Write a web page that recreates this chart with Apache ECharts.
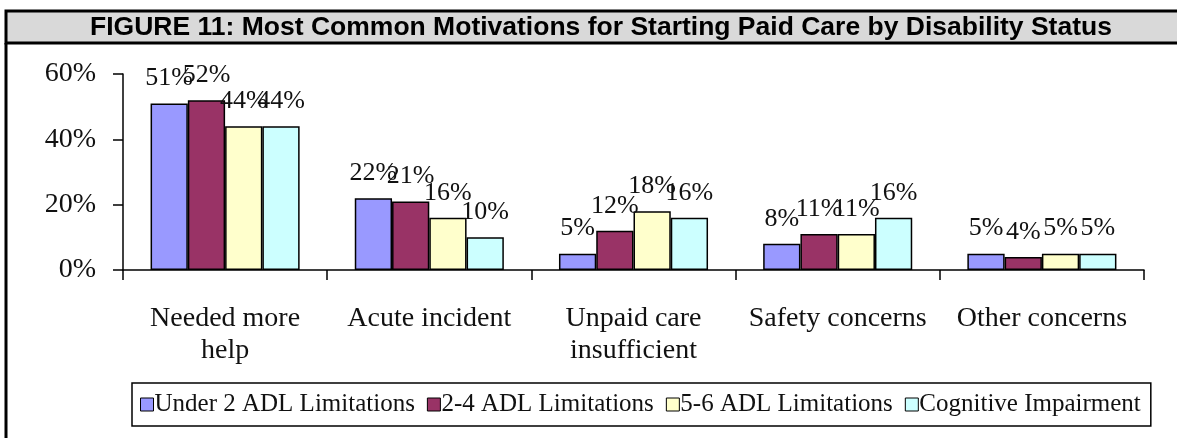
<!DOCTYPE html>
<html>
<head>
<meta charset="utf-8">
<script src="https://cdn.jsdelivr.net/npm/echarts@6/dist/echarts.min.js"></script>
<style>
html,body{margin:0;padding:0;background:#fff;}
#c{width:1177px;height:438px;}
</style>
</head>
<body>
<div id="c"></div>
<script>
const titleText = 'FIGURE 11: Most Common Motivations for Starting Paid Care by Disability Status';
const categories = ['Needed more\nhelp', 'Acute incident', 'Unpaid care\ninsufficient', 'Safety concerns', 'Other concerns'];
const seriesNames = ['Under 2 ADL Limitations', '2-4 ADL Limitations', '5-6 ADL Limitations', 'Cognitive Impairment'];
const under2 = [51, 22, 5, 8, 5];
const adl24 = [52, 21, 12, 11, 4];
const adl56 = [44, 16, 18, 11, 5];
const cognitive = [44, 10, 16, 16, 5];
const yTicks = [0, 20, 40, 60];
const colors = ['#9999ff', '#993366', '#ffffcc', '#ccffff'];

const serif = '"Liberation Serif", "Times New Roman", serif';
const chart = echarts.init(document.getElementById('c'));
const values = [under2, adl24, adl56, cognitive];

chart.setOption({
  animation: false,
  backgroundColor: '#fff',
  graphic: [
    { type: 'rect', shape: { x: 6, y: 11, width: 1180, height: 32 },
      style: { fill: '#d9d9d9', stroke: '#000', lineWidth: 3 }, z: 0 },
    { type: 'line', shape: { x1: 6, y1: 43, x2: 6, y2: 440 },
      style: { stroke: '#000', lineWidth: 3 } },
    { type: 'text', x: 601, y: 28,
      style: { text: titleText, font: 'bold 26.5px "Liberation Sans", Arial, sans-serif',
               fill: '#000', align: 'center', verticalAlign: 'middle' } }
  ],
  grid: { left: 123, right: 33, top: 74, bottom: 168 },
  legend: {
    data: seriesNames,
    left: 132, top: 383,
    icon: 'rect', itemWidth: 13, itemHeight: 13, itemGap: 12,
    borderColor: '#000', borderWidth: 1.5, padding: [9, 10, 9, 8],
    textStyle: { fontFamily: serif, fontSize: 25, color: '#111', padding: [0, 0, 0, -4] },
    itemStyle: { borderColor: '#000', borderWidth: 1 }
  },
  xAxis: {
    type: 'category', data: categories,
    axisLine: { lineStyle: { color: '#000', width: 1.5 } },
    axisTick: { show: true, length: 10, lineStyle: { color: '#000', width: 1.5 } },
    axisLabel: { fontFamily: serif, fontSize: 28, color: '#111', margin: 33, lineHeight: 32, interval: 0 }
  },
  yAxis: {
    type: 'value', min: 0, max: 60, interval: 20,
    splitLine: { show: false },
    axisLine: { show: true, lineStyle: { color: '#000', width: 1.5 } },
    axisTick: { show: true, length: 10, lineStyle: { color: '#000', width: 1.5 } },
    axisLabel: { fontFamily: serif, fontSize: 28, color: '#111', margin: 27, formatter: '{value}%' }
  },
  series: values.map((v, i) => ({
    name: seriesNames[i], type: 'bar', data: v,
    barGap: '0%', barCategoryGap: '27%',
    itemStyle: { color: colors[i], borderColor: '#000', borderWidth: 1.5 },
    label: { show: true, position: 'top', distance: 12, formatter: '{c}%',
             fontFamily: serif, fontSize: 26, color: '#111' }
  }))
});
</script>
</body>
</html>
